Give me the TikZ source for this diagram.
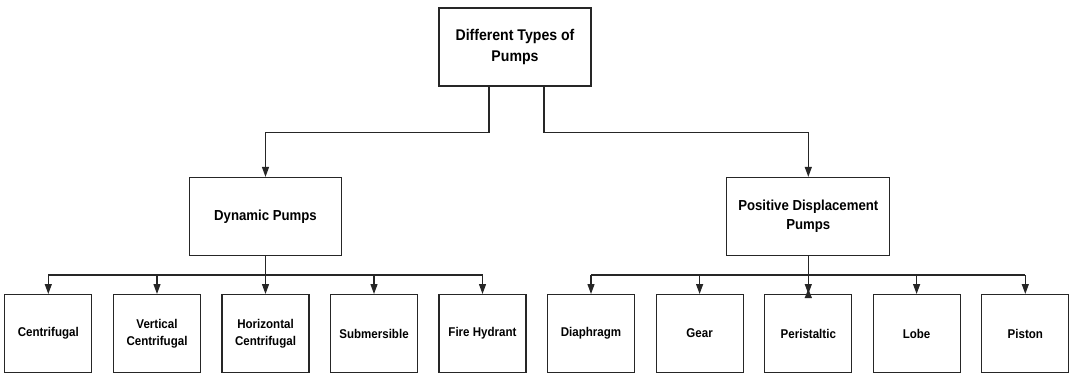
\documentclass[tikz,border=0pt]{standalone}
\usepackage{fontspec}
\setmainfont{Liberation Sans}
\newfontfamily\lsans[FakeStretch=0.91]{Liberation Sans}
\usetikzlibrary{arrows.meta,positioning}
\tikzset{
  box/.style={draw=black!85, line width=1.2pt, fill=white, align=center, inner sep=0pt, font=\lsans\bfseries},
  bigbox/.style={box, minimum width=152pt, minimum height=78pt},
  smallbox/.style={box, minimum width=87pt, minimum height=78pt},
  conn/.style={draw=black!85, line width=1.2pt},
  arr/.style={conn, -{Triangle[width=7pt,length=10pt]}},
}
\begin{document}
\begin{tikzpicture}[x=1pt,y=-1pt]
\useasboundingbox (0,0) rectangle (1070,377);
\node[bigbox, font=\lsans\bfseries\fontsize{15.5}{21}\selectfont] (top) at (515,47) {Different Types of\\Pumps};
\node[bigbox, font=\lsans\bfseries\fontsize{14.5}{19}\selectfont] (dyn) at (265.5,216.5) {Dynamic Pumps};
\node[bigbox, minimum width=163pt, font=\lsans\bfseries\fontsize{14.5}{19}\selectfont] (pd) at (808.3,216.5) {Positive Displacement\\Pumps};

\tikzset{sb/.style={smallbox, font=\lsans\bfseries\fontsize{12.7}{17}\selectfont}}
\node[sb] (l1) at (48.3,333.6) {Centrifugal};
\node[sb] (l2) at (157,333.6) {Vertical\\Centrifugal};
\node[sb] (l3) at (265.5,333.6) {Horizontal\\Centrifugal};
\node[sb] (l4) at (374,333.6) {Submersible};
\node[sb] (l5) at (482.5,333.6) {Fire Hydrant};
\node[sb] (r1) at (591,333.6) {Diaphragm};
\node[sb] (r2) at (699.6,333.6) {Gear};
\node[sb] (r3) at (808.3,333.6) {Peristaltic};
\node[sb] (r4) at (916.6,333.6) {Lobe};
\node[sb] (r5) at (1025.3,333.6) {Piston};

\coordinate (bus) at (0,275);

% top to second level
\draw[arr] ([xshift=-26pt]top.south) -- ++(0,46) -| (dyn.north);
\draw[arr] ([xshift=29pt]top.south) -- ++(0,46) -| (pd.north);

% left bus
\draw[conn] (l1.north |- bus) -- (l5.north |- bus);
\draw[arr] (dyn.south) -- (l3.north);
\foreach \n in {l1,l2,l4,l5} \draw[arr] (\n.north |- bus) -- (\n.north);

% right bus
\draw[conn] (r1.north |- bus) -- (r5.north |- bus);
\draw[arr] (pd.south) -- (r3.north);
\foreach \n in {r1,r2,r4,r5} \draw[arr] (\n.north |- bus) -- (\n.north);
\draw[conn, {Triangle[reversed,width=7pt,length=9pt]}-] ([yshift=-4pt]r3.north) -- (r3.north |- bus);
\end{tikzpicture}
\end{document}
